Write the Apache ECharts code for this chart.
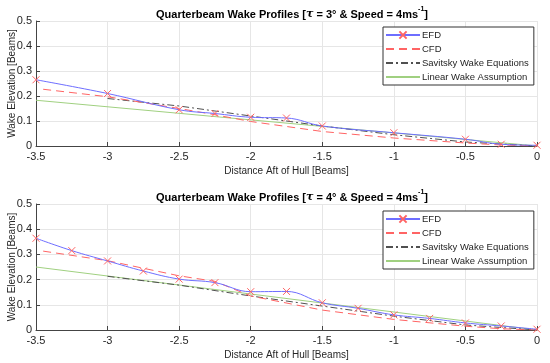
<!DOCTYPE html>
<html><head><meta charset="utf-8">
<script src="https://cdn.jsdelivr.net/npm/echarts@6/dist/echarts.min.js"></script>
<style>html,body{margin:0;padding:0;background:#fff}#c{width:550px;height:363px}</style>
</head><body><div id="c"></div>
<script>
// ---- Data ----
const seriesNames = ['EFD', 'CFD', 'Savitsky Wake Equations', 'Linear Wake Assumption'];
const xTicks = [-3.5, -3, -2.5, -2, -1.5, -1, -0.5, 0];

// Top chart (tau = 3 deg)
const efd3X = [-3.5, -3, -2.5, -2.25, -2, -1.75, -1.5, -1, -0.5, -0.25, 0];
const efd3Y = [0.265, 0.21, 0.145, 0.13, 0.115, 0.112, 0.08, 0.053, 0.027, 0.007, 0.003];
const cfd3X = [-3.45, -3, -2.5, -2.25, -2, -1.5, -1, -0.5, -0.25, 0];
const cfd3Y = [0.227, 0.197, 0.15, 0.125, 0.098, 0.058, 0.032, 0.012, 0.004, 0];
const sav3X = [-3, -2.5, -2.25, -2, -1.5, -1, -0.5, 0];
const sav3Y = [0.19, 0.16, 0.14, 0.12, 0.08, 0.045, 0.016, 0];
const lin3X = [-3.5, 0];
const lin3Y = [0.183, 0];

// Bottom chart (tau = 4 deg)
const efd4X = [-3.5, -3.25, -3, -2.75, -2.5, -2.25, -2, -1.75, -1.5, -1.25, -1, -0.75, -0.5, -0.25, 0];
const efd4Y = [0.364, 0.315, 0.274, 0.234, 0.202, 0.188, 0.152, 0.153, 0.108, 0.086, 0.06, 0.046, 0.028, 0.016, 0.003];
const cfd4X = [-3.45, -3, -2.5, -2.25, -2, -1.5, -1, -0.5, -0.25, 0];
const cfd4Y = [0.313, 0.275, 0.215, 0.193, 0.135, 0.079, 0.042, 0.015, 0.005, 0];
const sav4X = [-3, -2.5, -2, -1.5, -1, -0.5, 0];
const sav4Y = [0.213, 0.178, 0.135, 0.095, 0.055, 0.02, 0];
const lin4X = [-3.5, 0];
const lin4Y = [0.25, 0];

const zip = (xs, ys) => xs.map((x, i) => [x, ys[i]]);

const C_BLUE = '#6e6eff', C_RED = '#ff6464', C_GREY = '#505050', C_GREEN = '#a0d080';
const crossPath = 'path://M0,0L10,10M10,0L0,10';
const HIDE = { color: 'rgba(0,0,0,0)', borderColor: 'rgba(0,0,0,0)', borderWidth: 0, opacity: 0 };

function mkSeries(idx, efdX, efdY, cfdX, cfdY, savX, savY, linX, linY) {
  return [
    { name: seriesNames[3], type: 'line', xAxisIndex: idx, yAxisIndex: idx, data: zip(linX, linY),
      showSymbol: false, symbol: 'circle', lineStyle: { color: C_GREEN, width: 1 }, itemStyle: HIDE, z: 2 },
    { name: seriesNames[2], type: 'line', xAxisIndex: idx, yAxisIndex: idx, data: zip(savX, savY),
      showSymbol: false, symbol: 'circle', lineStyle: { color: C_GREY, width: 1, type: [7, 3, 2, 3] }, itemStyle: HIDE, z: 3 },
    { name: seriesNames[1], type: 'line', xAxisIndex: idx, yAxisIndex: idx, data: zip(cfdX, cfdY),
      showSymbol: false, symbol: 'circle', lineStyle: { color: C_RED, width: 1, type: [8, 5] }, itemStyle: HIDE, z: 4 },
    { name: seriesNames[0], type: 'line', xAxisIndex: idx, yAxisIndex: idx, data: zip(efdX, efdY),
      smooth: 0.4, symbol: crossPath, symbolSize: 7, showAllSymbol: true,
      lineStyle: { color: C_BLUE, width: 1 },
      itemStyle: { color: 'rgba(0,0,0,0)', borderColor: C_RED, borderWidth: 1 }, z: 5 }
  ];
}

const gridDefs = [{ top: 21, height: 125 }, { top: 204, height: 126 }];
const taus = ['3', '4'];

const axisTextColor = '#262626';
const option = {
  animation: false,
  backgroundColor: '#fff',
  textStyle: { fontFamily: 'Liberation Sans, Arial, sans-serif' },
  title: gridDefs.map((g, i) => ({
    left: 287, top: g.top - 20, textAlign: 'center',
    text: '{a|Quarterbeam Wake Profiles [}{t|τ}{a| = ' + taus[i] + '° & Speed = 4ms}{s|-1}{a|]}',
    textStyle: {
      rich: {
        a: { fontSize: 11, fontWeight: 'bold', color: '#000', fontFamily: 'Liberation Sans', lineHeight: 14, verticalAlign: 'bottom' },
        t: { fontSize: 11, fontStyle: 'italic', color: '#000', fontFamily: 'DejaVu Serif', lineHeight: 14, verticalAlign: 'bottom' },
        s: { fontSize: 7, fontWeight: 'bold', color: '#000', fontFamily: 'Liberation Sans', lineHeight: 14, verticalAlign: 'top', padding: [0, 0, 6, 0] }
      }
    }
  })),
  grid: gridDefs.map(g => ({ left: 36, right: 13, top: g.top, height: g.height, containLabel: false, outerBoundsMode: 'none' })),
  xAxis: gridDefs.map((g, i) => ({
    type: 'value', gridIndex: i, min: -3.5, max: 0, interval: 0.5,
    name: 'Distance Aft of Hull [Beams]', nameLocation: 'middle', nameGap: 20, nameMoveOverlap: false,
    nameTextStyle: { fontSize: 10, color: axisTextColor },
    axisLine: { onZero: false, lineStyle: { color: '#444', width: 1 } },
    axisTick: { inside: true, length: 4, lineStyle: { color: '#444' } },
    axisLabel: { fontSize: 11, color: axisTextColor, margin: 5, formatter: v => String(v) },
    splitLine: { show: true, lineStyle: { color: '#e6e6e6', width: 1 } }
  })),
  yAxis: gridDefs.map((g, i) => ({
    type: 'value', gridIndex: i, min: 0, max: 0.5, interval: 0.1, position: 'left',
    name: 'Wake Elevation [Beams]', nameLocation: 'middle', nameGap: 19, nameRotate: 90, nameMoveOverlap: false,
    nameTextStyle: { fontSize: 10, color: axisTextColor },
    axisLine: { show: true, onZero: false, lineStyle: { color: '#444', width: 1 } },
    axisTick: { show: true, inside: true, length: 4, lineStyle: { color: '#444' } },
    axisLabel: { fontSize: 11, color: axisTextColor, margin: 4, formatter: v => String(+v.toFixed(1)) },
    splitLine: { show: true, lineStyle: { color: '#e6e6e6', width: 1 } }
  })),
  legend: gridDefs.map((g, i) => ({
    orient: 'vertical', left: 383, top: g.top + 6 + i * 1,
    data: seriesNames.map((n, k) => k === 0 ? { name: n } : { name: n, itemStyle: HIDE }),
    itemWidth: 34, itemHeight: 9, itemGap: 4,
    padding: [3, 5, 3, 2],
    borderColor: '#333', borderWidth: 1, backgroundColor: '#fff',
    textStyle: { fontSize: 9.5, color: axisTextColor, padding: [0, 0, 0, -3] },
    selectedMode: false
  })),
  series: [
    ...mkSeries(0, efd3X, efd3Y, cfd3X, cfd3Y, sav3X, sav3Y, lin3X, lin3Y),
    ...mkSeries(1, efd4X, efd4Y, cfd4X, cfd4Y, sav4X, sav4Y, lin4X, lin4Y)
  ]
};
const chart = echarts.init(document.getElementById('c'), null, { renderer: 'canvas' });
chart.setOption(option);
</script></body></html>
